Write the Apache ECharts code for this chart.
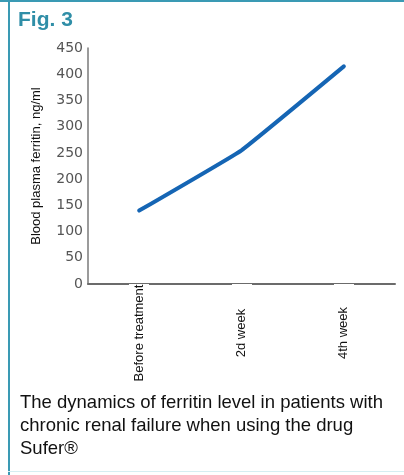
<!DOCTYPE html>
<html>
<head>
<meta charset="utf-8">
<script src="https://cdn.jsdelivr.net/npm/echarts@6/dist/echarts.min.js"></script>
<style>
  html, body { margin: 0; padding: 0; background: #fff; }
  #chart { width: 404px; height: 475px; }
</style>
</head>
<body>
<div id="chart"></div>
<script>
"use strict";

// data
const stages = ["Before treatment", "2d week", "4th week"];
const ferritin = [140, 255, 415];
const yTicks = { min: 0, max: 450, step: 50 };

const captionLines = [
  "The dynamics of ferritin level in patients with",
  "chronic renal failure when using the drug",
  "Sufer®"
];

const teal = "#3a9ab4";

const chart = echarts.init(document.getElementById("chart"), null, {
  renderer: "canvas"
});

chart.setOption({
  animation: false,
  title: [
    {
      text: "Fig. 3",
      left: 13,
      top: 5,
      textStyle: {
        fontFamily: "Liberation Sans",
        fontSize: 21,
        fontWeight: "bold",
        color: "#2f8ea7"
      }
    },
    {
      text: captionLines.join("\n"),
      left: 15,
      top: 386,
      textStyle: {
        fontFamily: "Liberation Sans",
        fontSize: 18.5,
        fontWeight: "normal",
        lineHeight: 23,
        color: "#111"
      }
    }
  ],
  grid: {
    left: 88,
    right: 9,
    top: 48,
    bottom: 475 - 284,
    containLabel: false
  },
  xAxis: {
    type: "category",
    data: stages,
    boundaryGap: true,
    axisLine: { lineStyle: { color: "#6b6b6b", width: 2 } },
    axisTick: {
      show: true,
      alignWithLabel: true,
      length: 2,
      lineStyle: { color: "#fff", width: 20 }
    },
    axisLabel: {
      rotate: 90,
      align: "center",
      verticalAlign: "middle",
      margin: 49,
      fontFamily: "Liberation Sans",
      fontSize: 13,
      color: "#111"
    }
  },
  yAxis: {
    type: "value",
    min: yTicks.min,
    max: yTicks.max,
    interval: yTicks.step,
    name: "Blood plasma ferritin, ng/ml",
    nameLocation: "middle",
    nameGap: 45,
    nameRotate: 90,
    nameTextStyle: {
      fontFamily: "Liberation Sans",
      fontSize: 13,
      color: "#111"
    },
    splitLine: { show: false },
    axisTick: { show: false },
    axisLine: { show: true, lineStyle: { color: "#7a7a7a", width: 1.5 } },
    axisLabel: {
      margin: 5,
      fontFamily: "DejaVu Sans",
      fontSize: 14,
      color: "#555"
    }
  },
  series: [
    {
      type: "line",
      data: ferritin,
      smooth: 0.08,
      symbol: "none",
      lineStyle: { color: "#1565b4", width: 4, cap: "round" }
    }
  ],
  graphic: [
    {
      type: "rect",
      shape: { x: 0, y: 0, width: 404, height: 2 },
      style: { fill: teal }
    },
    {
      type: "rect",
      shape: { x: 8, y: 0, width: 2, height: 475 },
      style: { fill: teal }
    },
    {
      type: "rect",
      shape: { x: 8, y: 471, width: 396, height: 1 },
      style: { fill: "#d6eef2" }
    }
  ]
});
</script>
</body>
</html>
